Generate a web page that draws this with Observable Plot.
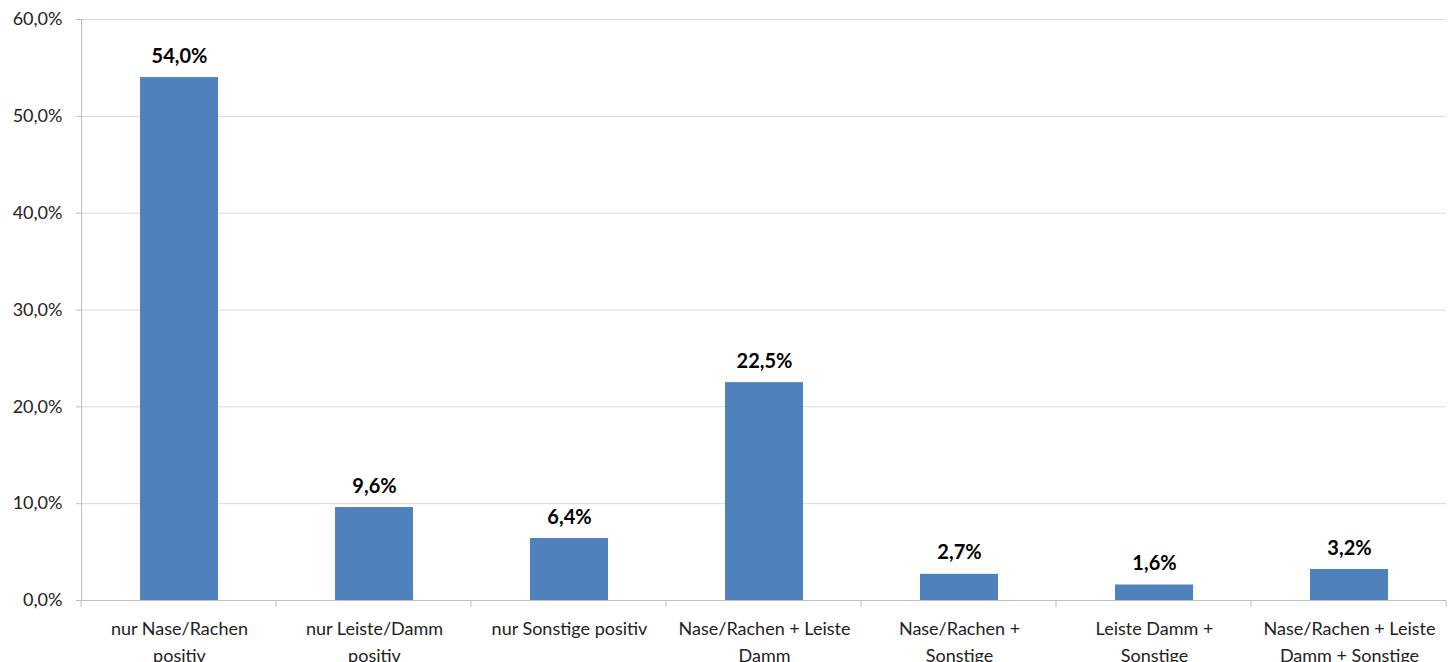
<!DOCTYPE html>
<html>
<head>
<meta charset="utf-8">
<script src="https://cdn.jsdelivr.net/npm/d3@7"></script>
<script src="https://cdn.jsdelivr.net/npm/@observablehq/plot@0.6"></script>
<style>
  html, body { margin: 0; padding: 0; background: #fff; }
  #chart { width: 1450px; height: 662px; overflow: hidden; }
  svg { font-family: Lato, "Open Sans", sans-serif; }
</style>
</head>
<body>
<div id="chart"></div>
<script>
const categories = [
  "nur Nase/Rachen positiv",
  "nur Leiste/Damm positiv",
  "nur Sonstige positiv",
  "Nase/Rachen + Leiste Damm",
  "Nase/Rachen + Sonstige",
  "Leiste Damm + Sonstige",
  "Nase/Rachen + Leiste Damm + Sonstige"
];
const tickLabels = [
  "nur Nase/Rachen\npositiv",
  "nur Leiste/Damm\npositiv",
  "nur Sonstige positiv",
  "Nase/Rachen + Leiste\nDamm",
  "Nase/Rachen +\nSonstige",
  "Leiste Damm +\nSonstige",
  "Nase/Rachen + Leiste\nDamm + Sonstige"
];
const values = [54.0, 9.6, 6.4, 22.5, 2.7, 1.6, 3.2];
const yTicks = [0, 10, 20, 30, 40, 50, 60];

const data = categories.map((c, i) => ({category: c, value: values[i]}));
const labelOf = new Map(categories.map((c, i) => [c, tickLabels[i]]));
const fmt = v => d3.format(".1f")(v).replace(".", ",") + "%";

// category separators drawn below the x axis at band boundaries
function separators(index, scales, values, dimensions) {
  const g = d3.create("svg:g");
  const y0 = dimensions.height - dimensions.marginBottom;
  const left = dimensions.marginLeft;
  const right = dimensions.width - dimensions.marginRight;
  const step = (right - left) / categories.length;
  for (let i = 0; i <= categories.length; i++) {
    const e = left + i * step;
    g.append("line")
      .attr("x1", e).attr("x2", e)
      .attr("y1", y0).attr("y2", y0 + 7)
      .attr("stroke", "#bfbfbf");
  }
  return g.node();
}

const chart = Plot.plot({
  width: 1450,
  height: 662,
  marginTop: 19,
  marginBottom: 62,
  marginLeft: 81,
  marginRight: 4,
  style: {fontFamily: "Lato, 'Open Sans', sans-serif", background: "#fff"},
  x: {domain: categories, paddingInner: 0.6, paddingOuter: 0.3, label: null},
  y: {domain: [0, 60], label: null},
  marks: [
    Plot.gridY(yTicks, {stroke: "#d9d9d9", strokeOpacity: 1}),
    Plot.barY(data, {x: "category", y: "value", fill: "#4f81bd"}),
    Plot.ruleY([0], {stroke: "#bfbfbf"}),
    Plot.frame({anchor: "left", stroke: "#bfbfbf"}),
    Plot.axisY({ticks: yTicks, tickSize: 5, tickPadding: 14, tickFormat: fmt, fontSize: 18, fill: "#222", stroke: "#bfbfbf"}),
    Plot.axisX({tickSize: 0, tickPadding: 15, fontSize: 18, fill: "#222", lineHeight: 1.5, tickFormat: d => labelOf.get(d)}),
    separators,
    Plot.text(data, {x: "category", y: "value", text: d => fmt(d.value), dy: -15, lineAnchor: "bottom", fontSize: 20, fontWeight: "bold", fill: "#000"})
  ]
});
document.getElementById("chart").appendChild(chart);
</script>
</body>
</html>
